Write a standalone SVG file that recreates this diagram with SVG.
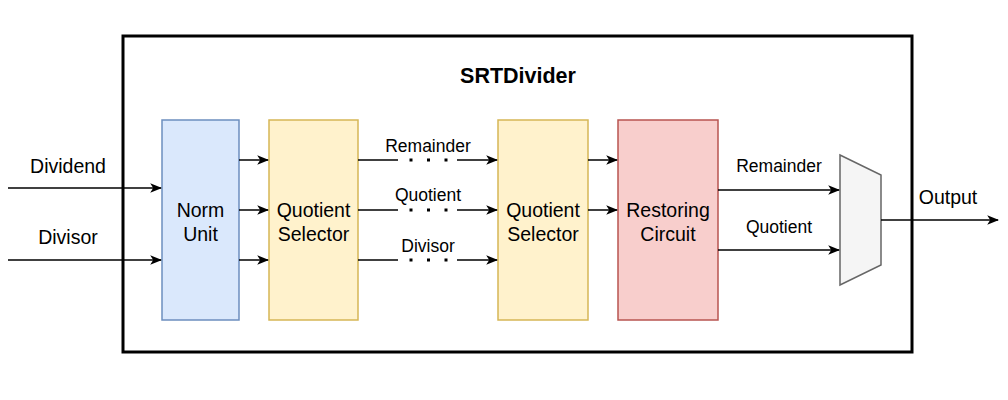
<svg xmlns="http://www.w3.org/2000/svg" width="1008" height="400" viewBox="0 0 1008 400">
<style>
text{font-family:"Liberation Sans",Arial,sans-serif;fill:#000;text-anchor:middle}
.n{font-size:19.5px}
.l{font-size:17.5px}
.w{stroke:#000;stroke-width:1.5;fill:none}
.a{marker-end:url(#ar)}
.d{stroke-dasharray:3 14.5;stroke-width:3}
</style>
<defs>
<marker id="ar" viewBox="0 0 10 10" refX="9" refY="5" markerWidth="12" markerHeight="12" markerUnits="userSpaceOnUse" orient="auto">
<path d="M0,1 L10,5 L0,9 L2.5,5 Z" fill="#000"/>
</marker>
</defs>
<rect width="1008" height="400" fill="#fff"/>
<g id="outer">
<rect x="123" y="36" width="789" height="316" fill="none" stroke="#000" stroke-width="3"/>
<text x="518" y="83" style="font-size:21.5px;font-weight:bold">SRTDivider</text>
</g>
<g id="norm">
<rect x="162" y="120" width="77" height="200" fill="#dae8fc" stroke="#6c8ebf" stroke-width="1.5"/>
<text class="n" x="200.5" y="217">Norm</text>
<text class="n" x="200.5" y="241">Unit</text>
</g>
<g id="qs1">
<rect x="269" y="120" width="89" height="200" fill="#fff2cc" stroke="#d6b656" stroke-width="1.5"/>
<text class="n" x="313.5" y="217">Quotient</text>
<text class="n" x="313.5" y="241">Selector</text>
</g>
<g id="qs2">
<rect x="498" y="120" width="90" height="200" fill="#fff2cc" stroke="#d6b656" stroke-width="1.5"/>
<text class="n" x="543" y="217">Quotient</text>
<text class="n" x="543" y="241">Selector</text>
</g>
<g id="rc">
<rect x="618" y="120" width="100" height="200" fill="#f8cecc" stroke="#b85450" stroke-width="1.5"/>
<text class="n" x="668" y="217">Restoring</text>
<text class="n" x="668" y="241">Circuit</text>
</g>
<g id="mux">
<path d="M840,155 L881,175 L881,265 L840,285 Z" fill="#f5f5f5" stroke="#666666" stroke-width="1.5"/>
</g>
<g id="connectors">
<path class="w a" d="M8,188 H161"/>
<path class="w a" d="M8,260 H161"/>
<path class="w a" d="M239,160 H268"/>
<path class="w a" d="M239,210 H268"/>
<path class="w a" d="M239,260 H268"/>
<path class="w" d="M358,160 H398"/>
<path class="w d" d="M409.5,160 H450"/>
<path class="w a" d="M457,160 H497"/>
<path class="w" d="M358,210 H398"/>
<path class="w d" d="M409.5,210 H450"/>
<path class="w a" d="M457,210 H497"/>
<path class="w" d="M358,260 H398"/>
<path class="w d" d="M409.5,260 H450"/>
<path class="w a" d="M457,260 H497"/>
<path class="w a" d="M588,160 H617"/>
<path class="w a" d="M588,210 H617"/>
<path class="w a" d="M718,190 H839"/>
<path class="w a" d="M718,250 H839"/>
<path class="w a" d="M881,220 H998"/>
</g>
<g id="labels">
<text class="n" x="68" y="173">Dividend</text>
<text class="n" x="68" y="244">Divisor</text>
<text class="l" x="428" y="152">Remainder</text>
<text class="l" x="428" y="201">Quotient</text>
<text class="l" x="428" y="252">Divisor</text>
<text class="l" x="779" y="172">Remainder</text>
<text class="l" x="779" y="233">Quotient</text>
<text class="n" x="948" y="204">Output</text>
</g>
</svg>
